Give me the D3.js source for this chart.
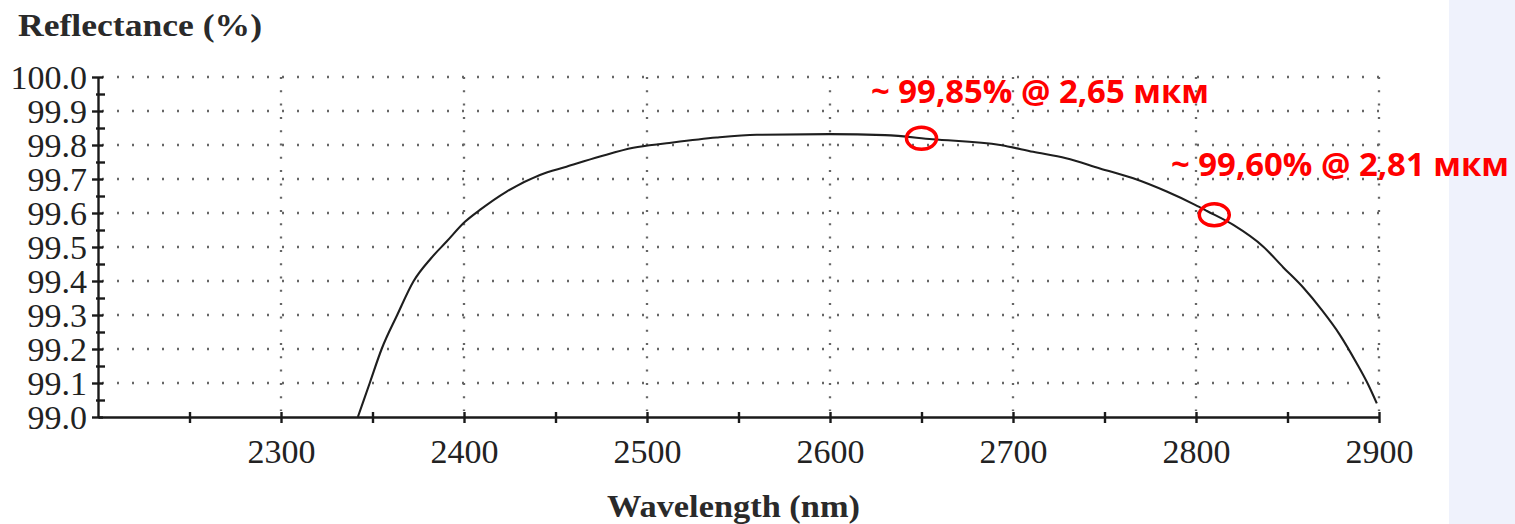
<!DOCTYPE html>
<html>
<head>
<meta charset="utf-8">
<script src="https://cdn.jsdelivr.net/npm/d3@7"></script>
<style>
  html, body { margin: 0; padding: 0; background: #ffffff; }
  svg { display: block; }
</style>
</head>
<body>
<svg id="chart" width="1515" height="524"></svg>
<script>
// Reflectance spectrum of the mirror coating (wavelength in nm, reflectance in %)
const wavelength = [2342, 2348.5, 2355, 2363.5, 2372.5, 2382, 2390.5, 2400.5, 2408.7, 2423.3, 2441.5,
                    2456, 2474.3, 2492.5, 2510.7, 2538, 2560, 2600, 2630, 2656, 2693, 2711, 2729,
                    2747.5, 2765.7, 2784, 2799.5, 2806, 2820.4, 2836.8, 2847.7, 2858.7, 2868.7,
                    2878.7, 2887.8, 2894.2, 2898.8];
const reflectance = [99.00, 99.10, 99.20, 99.30, 99.40, 99.467, 99.516, 99.574, 99.609, 99.663, 99.712,
                     99.736, 99.766, 99.792, 99.805, 99.822, 99.83, 99.832, 99.829, 99.817, 99.80, 99.78, 99.761,
                     99.731, 99.702, 99.663, 99.624, 99.606, 99.565, 99.501, 99.44, 99.38, 99.315,
                     99.241, 99.158, 99.094, 99.04];

// Axis ticks
const xMajorTicks = [2300, 2400, 2500, 2600, 2700, 2800, 2900];
const xMinorTicks = [2250, 2350, 2450, 2550, 2650, 2750, 2850];
const yMajorTicks = [99.0, 99.1, 99.2, 99.3, 99.4, 99.5, 99.6, 99.7, 99.8, 99.9, 100.0];
const yMinorTicks = [99.05, 99.15, 99.25, 99.35, 99.45, 99.55, 99.65, 99.75, 99.85, 99.95];

// Highlighted points (wavelength nm) and their captions
const noteWavelength = [2650, 2810];
const noteText = ["~ 99,85% @ 2,65 мкм", "~ 99,60% @ 2,81 мкм"];

const svg = d3.select("#chart");

// side panel
svg.append("rect").attr("x", 1449).attr("y", 0).attr("width", 66).attr("height", 524).attr("fill", "#eff2fc");

const x = d3.scaleLinear().domain([2200, 2900]).range([98, 1379]);
const y = d3.scaleLinear().domain([99, 100]).range([417, 77]);

const serif = "'Liberation Serif', 'Times New Roman', serif";

// dotted grid
const grid = svg.append("g").attr("stroke", "#666").attr("stroke-width", 2.3);
grid.selectAll("line.h").data(yMajorTicks.slice(1)).join("line")
  .attr("class", "h")
  .attr("x1", x(2200) + 4).attr("x2", x(2900))
  .attr("y1", d => y(d)).attr("y2", d => y(d))
  .attr("stroke-dasharray", "2,13");
grid.selectAll("line.v").data(xMajorTicks).join("line")
  .attr("class", "v")
  .attr("x1", d => x(d)).attr("x2", d => x(d))
  .attr("y1", y(100)).attr("y2", y(99) - 6)
  .attr("stroke-dasharray", "2,11.3");

// x axis
const xAxis = svg.append("g").attr("transform", `translate(0,${y(99)})`)
  .call(d3.axisBottom(x).tickValues(xMajorTicks.concat(xMinorTicks)).tickSize(0)
    .tickFormat(d => xMajorTicks.includes(d) ? d3.format("d")(d) : ""));
xAxis.select(".domain").attr("stroke", "#1a1a1a").attr("stroke-width", 2.4);
xAxis.selectAll(".tick line").attr("y1", -5).attr("y2", 6).attr("stroke", "#1a1a1a").attr("stroke-width", 2.4);
xAxis.selectAll(".tick text")
  .attr("y", 46).attr("dy", 0)
  .attr("font-family", serif).attr("font-size", 34).attr("fill", "#222");

// y axis: major ticks with labels
const yAxis = svg.append("g").attr("transform", `translate(${x(2200)},0)`)
  .call(d3.axisLeft(y).tickValues(yMajorTicks).tickSize(0).tickFormat(d3.format(".1f")));
yAxis.select(".domain").attr("stroke", "#1a1a1a").attr("stroke-width", 2.4);
yAxis.selectAll(".tick line").attr("x1", -6).attr("x2", 5).attr("stroke", "#1a1a1a").attr("stroke-width", 2.4);
yAxis.selectAll(".tick text")
  .attr("x", -11).attr("dy", "0.34em")
  .attr("font-family", serif).attr("font-size", 34).attr("fill", "#222");

// y axis: minor ticks
const yMinor = svg.append("g").attr("transform", `translate(${x(2200)},0)`)
  .call(d3.axisLeft(y).tickValues(yMinorTicks).tickSize(0).tickFormat(""));
yMinor.select(".domain").remove();
yMinor.selectAll(".tick line").attr("x1", -2).attr("x2", 7).attr("stroke", "#1a1a1a").attr("stroke-width", 2.4);

// axis titles
svg.append("text").attr("x", 18).attr("y", 36)
  .attr("font-family", serif).attr("font-size", 31).attr("font-weight", "bold").attr("fill", "#2a2a2a")
  .attr("textLength", 244).attr("lengthAdjust", "spacingAndGlyphs")
  .text("Reflectance (%)");
svg.append("text").attr("x", 607).attr("y", 517)
  .attr("font-family", serif).attr("font-size", 31).attr("font-weight", "bold").attr("fill", "#2a2a2a")
  .attr("textLength", 253).attr("lengthAdjust", "spacingAndGlyphs")
  .text("Wavelength (nm)");

// reflectance curve
const line = d3.line()
  .x((d, i) => x(wavelength[i]))
  .y(d => y(d))
  .curve(d3.curveMonotoneX);
svg.append("path").datum(reflectance)
  .attr("d", line)
  .attr("fill", "none").attr("stroke", "#1e1e1e").attr("stroke-width", 2.1);

// value at a given wavelength
const interp = w => {
  const i = d3.bisectLeft(wavelength, w);
  const w0 = wavelength[i - 1], w1 = wavelength[i];
  const t = (w - w0) / (w1 - w0);
  return reflectance[i - 1] + t * (reflectance[i] - reflectance[i - 1]);
};

// highlighted points
svg.selectAll("ellipse.note").data(noteWavelength).join("ellipse")
  .attr("class", "note")
  .attr("cx", d => x(d)).attr("cy", d => y(interp(d)))
  .attr("rx", 15).attr("ry", 11)
  .attr("fill", "none").attr("stroke", "#ff0000").attr("stroke-width", 3.5);

const notePos = [[871, 103], [1171, 176]];
svg.selectAll("text.note").data(noteText).join("text")
  .attr("class", "note")
  .attr("x", (d, i) => notePos[i][0]).attr("y", (d, i) => notePos[i][1])
  .attr("font-family", "'Open Sans', 'Noto Sans', sans-serif").attr("font-weight", "bold")
  .attr("font-size", 32).attr("fill", "#ff0000")
  .attr("textLength", 338).attr("lengthAdjust", "spacingAndGlyphs")
  .text(d => d);
</script>
</body>
</html>
